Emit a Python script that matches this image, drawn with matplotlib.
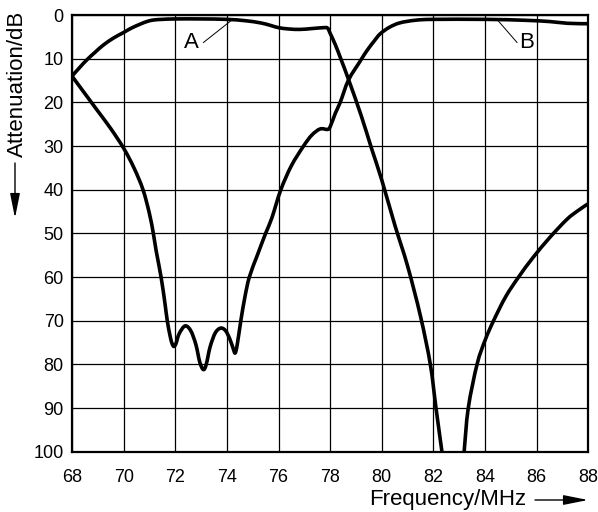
import numpy as np
import matplotlib
matplotlib.use("Agg")
import matplotlib.pyplot as plt
from matplotlib.path import Path
from matplotlib.patches import PathPatch, FancyArrowPatch

plt.rcParams['font.family'] = ['Liberation Sans', 'DejaVu Sans']

# Curve A: passband 71-78 MHz, notch near 82.7 MHz (off scale between the two segments)
freq_a = [68.0, 68.3, 68.57, 68.9, 69.21, 69.6, 70.0, 70.3, 70.64, 70.9, 71.15, 71.5,
          72.0, 73.0, 74.0, 74.7, 75.3, 75.7, 76.0, 76.4, 76.84, 77.3, 77.74, 77.9,
          78.0, 78.2, 78.43, 78.72, 79.2, 79.6, 80.0, 80.5, 81.0, 81.5,
          81.88, 82.1, 82.33,
          np.nan,
          83.19, 83.35, 83.69, 84.0, 84.33, 84.8, 85.3, 85.85, 86.5, 87.17, 87.6, 88.0]
atten_a = [14.0, 12.0, 10.3, 8.5, 6.9, 5.3, 4.0, 3.0, 2.1, 1.5, 1.15, 1.0,
           0.9, 0.9, 1.0, 1.3, 1.8, 2.4, 2.9, 3.2, 3.3, 3.1, 2.9, 3.0,
           4.2, 6.8, 10.3, 14.9, 23.0, 30.5, 37.8, 48.0, 57.5, 69.0,
           80.0, 90.0, 100.0,
           np.nan,
           100.0, 90.0, 80.0, 74.5, 70.0, 64.5, 60.0, 55.6, 51.0, 46.8, 44.8, 43.2]

# Curve B: stopband with three notches 72-74.5 MHz, passband 80-88 MHz
freq_b = [68.0, 68.5, 69.0, 69.5, 70.0, 70.4, 70.75, 71.0, 71.15, 71.26, 71.45, 71.6,
          71.69, 71.8, 71.88, 71.95, 72.03, 72.15, 72.38, 72.6, 72.8, 72.95, 73.09,
          73.2, 73.35, 73.55, 73.76, 73.95, 74.12, 74.25, 74.32, 74.4, 74.54, 74.7,
          74.87, 75.18, 75.5, 75.74, 76.09, 76.5, 76.97, 77.29, 77.61, 77.9, 78.0, 78.2,
          78.39, 78.71, 79.16, 79.42, 79.7, 79.94, 80.3, 80.7, 81.3, 82.0, 84.0, 85.5,
          86.5, 87.2, 88.0]
atten_b = [14.0, 18.0, 22.0, 26.0, 30.5, 35.0, 40.0, 45.5, 50.0, 54.0, 60.0, 66.0,
           70.0, 73.5, 75.3, 75.9, 75.2, 73.0, 71.2, 72.3, 75.5, 79.5, 81.2,
           80.0, 76.0, 72.8, 71.7, 72.3, 74.3, 76.5, 77.4, 75.5, 70.0, 64.5,
           60.0, 55.0, 50.0, 46.5, 40.0, 34.5, 30.0, 27.5, 26.1, 26.2, 25.6, 22.5,
           20.0, 14.9, 10.6, 8.2, 6.0, 4.3, 2.8, 1.8, 1.2, 1.0, 1.0, 1.2,
           1.5, 1.9, 2.0]

x_ticks = [68, 70, 72, 74, 76, 78, 80, 82, 84, 86, 88]
y_ticks = [0, 10, 20, 30, 40, 50, 60, 70, 80, 90, 100]


def smooth_path(xs, ys):
    """Catmull-Rom curve through the given points, as cubic Bezier pieces;
    NaN entries split the curve into separate runs."""
    xs = np.asarray(xs, float)
    ys = np.asarray(ys, float)
    verts, codes = [], []
    breaks = np.where(np.isnan(xs))[0]
    starts = np.r_[0, breaks + 1]
    ends = np.r_[breaks, len(xs)]
    for s, e in zip(starts, ends):
        p = np.column_stack([xs[s:e], ys[s:e]])
        n = len(p)
        verts.append(p[0]); codes.append(Path.MOVETO)
        for i in range(n - 1):
            p0 = p[i - 1] if i > 0 else p[i]
            p3 = p[i + 2] if i + 2 < n else p[i + 1]
            c1 = p[i] + (p[i + 1] - p0) / 6.0
            c2 = p[i + 1] - (p3 - p[i]) / 6.0
            verts += [c1, c2, p[i + 1]]
            codes += [Path.CURVE4] * 3
    return Path(verts, codes)


fig = plt.figure(figsize=(5.98, 5.12), dpi=100)
ax = fig.add_axes([0.1204, 0.1178, 0.8634, 0.8529])

for fx, fy in ((freq_a, atten_a), (freq_b, atten_b)):
    ax.add_patch(PathPatch(smooth_path(fx, fy), facecolor='none', edgecolor='black',
                           lw=2.6, capstyle='butt', joinstyle='round',
                           transform=ax.transData, clip_on=True))

ax.set_xlim(68, 88)
ax.set_ylim(100, 0)
ax.set_xticks(x_ticks)
ax.set_yticks(y_ticks)
ax.tick_params(length=0, labelsize=13, colors='black')
ax.tick_params(axis='x', pad=12.5)
ax.tick_params(axis='y', pad=6)
ax.grid(True, color='black', lw=0.9)
ax.set_axisbelow(True)
for s in ax.spines.values():
    s.set_linewidth(1.6)
    s.set_color('black')

# Curve labels with leader lines
ax.text(72.64, 6.4, 'A', fontsize=16, ha='center', va='center')
ax.plot([73.09, 74.16], [6.3, 1.3], color='black', lw=0.7)
ax.text(85.62, 6.4, 'B', fontsize=16, ha='center', va='center')
ax.plot([84.52, 85.24], [1.4, 6.3], color='black', lw=0.7)

# Axis titles with direction arrows
fig.text(17 / 598, 1 - 84 / 512, 'Attenuation/dB', rotation=90, fontsize=16,
         ha='center', va='center')
fig.add_artist(FancyArrowPatch(
    (15 / 598, 1 - 163 / 512), (15 / 598, 1 - 218 / 512),
    transform=fig.transFigure, arrowstyle='-|>,head_length=15,head_width=3',
    color='black', lw=1.0, mutation_scale=1, shrinkA=0, shrinkB=0))
fig.text(448 / 598, 1 - 499 / 512, 'Frequency/MHz', fontsize=16,
         ha='center', va='center')
fig.add_artist(FancyArrowPatch(
    (535 / 598, 1 - 500 / 512), (588 / 598, 1 - 500 / 512),
    transform=fig.transFigure, arrowstyle='-|>,head_length=15,head_width=3',
    color='black', lw=1.0, mutation_scale=1, shrinkA=0, shrinkB=0))

fig.savefig('out.png', dpi=100)
